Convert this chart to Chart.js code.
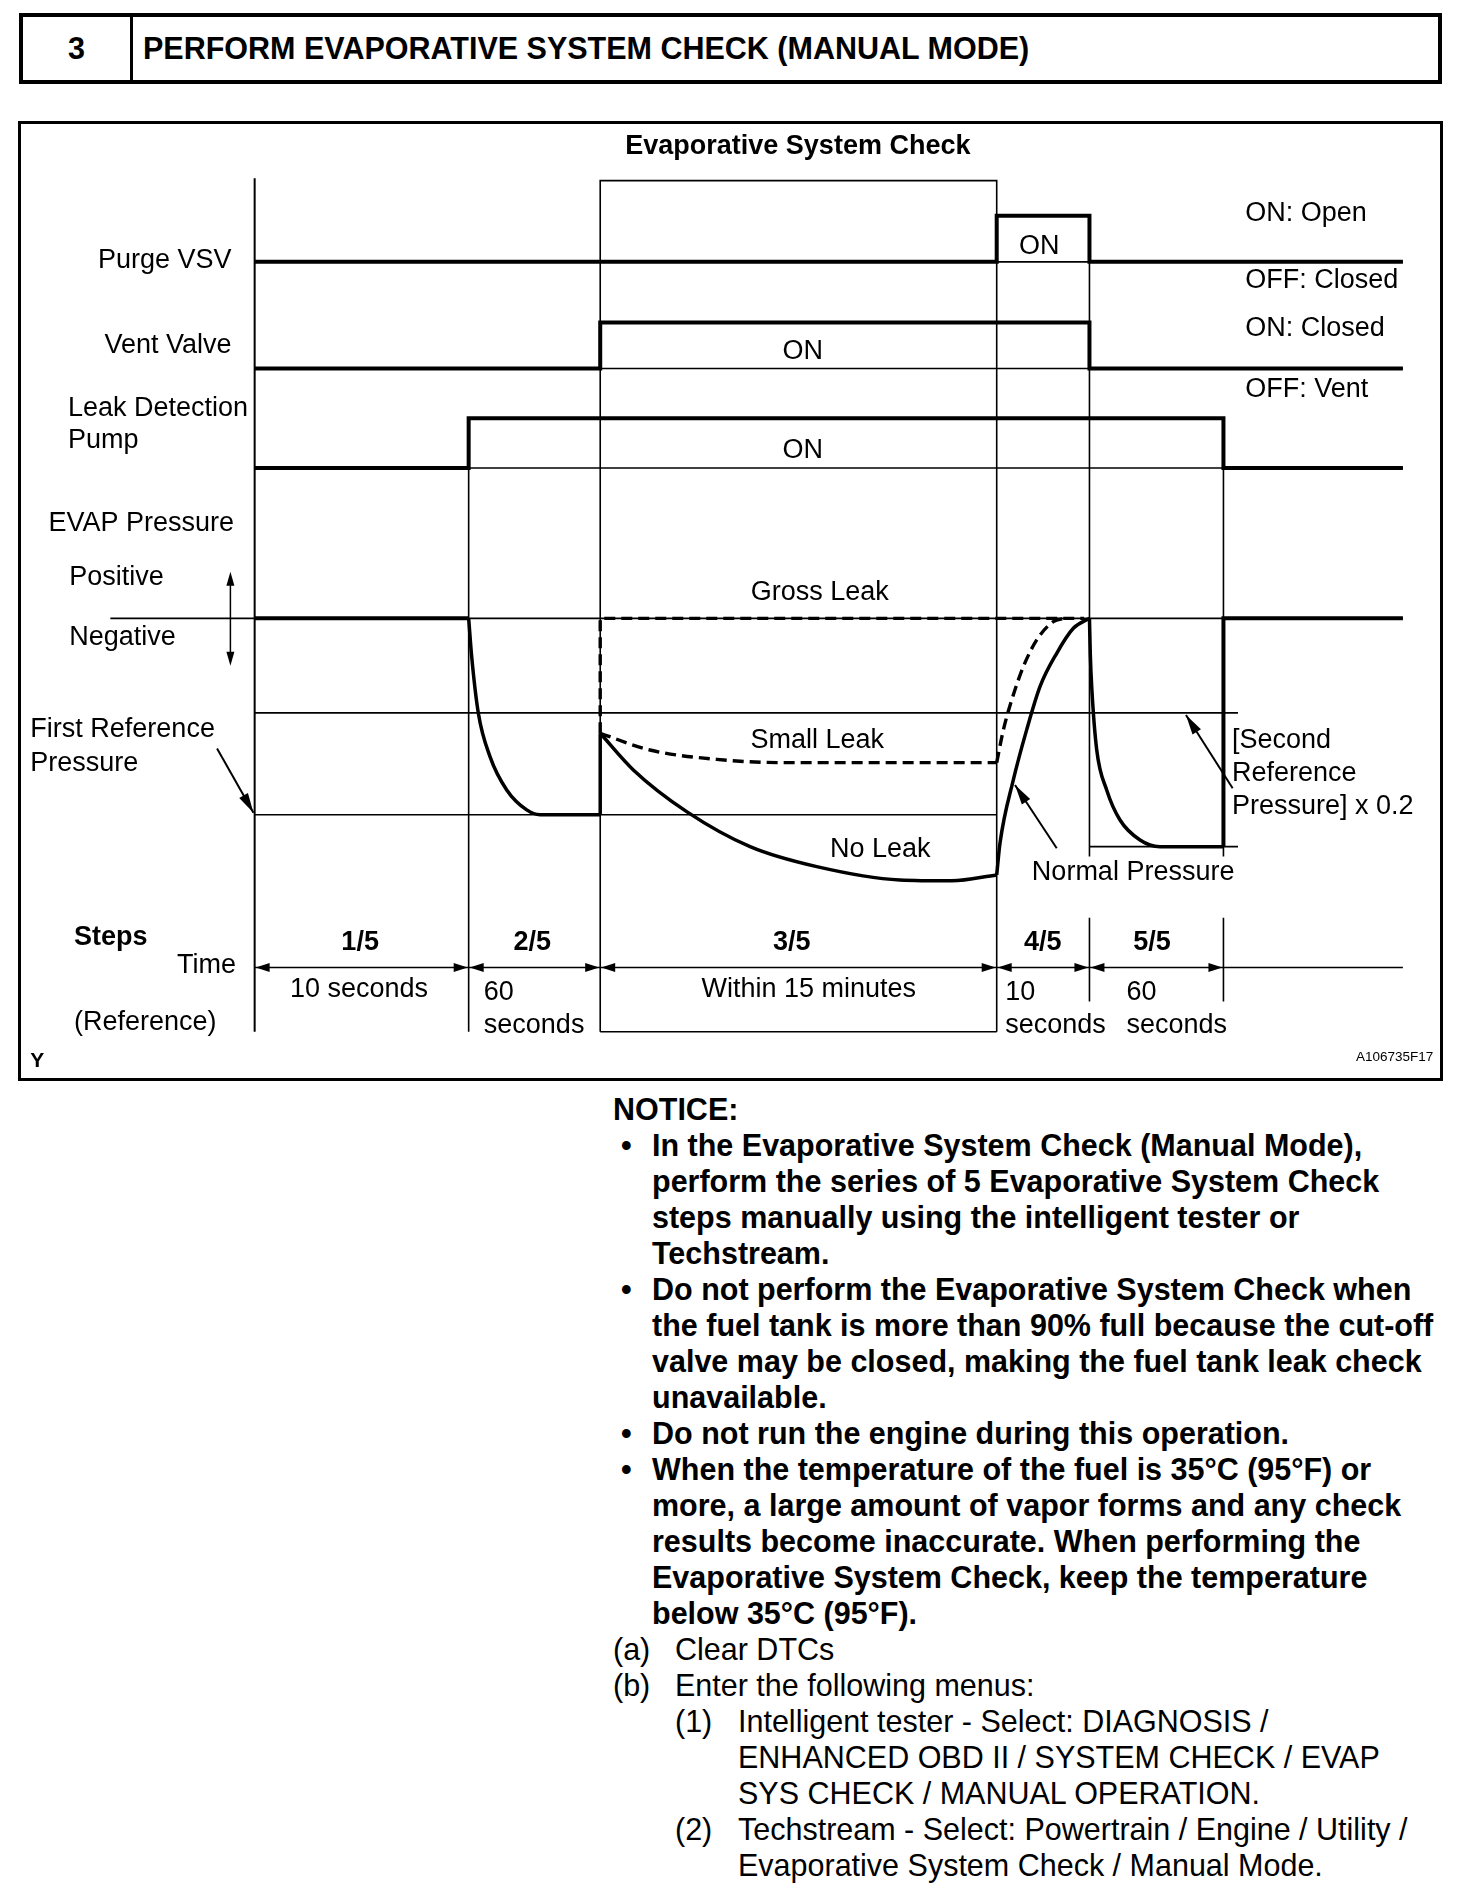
<!DOCTYPE html>
<html>
<head>
<meta charset="utf-8">
<script src="https://cdn.jsdelivr.net/npm/chart.js@4.4.0/dist/chart.umd.min.js"></script>
<style>
  body { margin: 0; background: #fff; color: #000; font-family: "Liberation Sans", Arial, sans-serif; }
  #page { position: relative; width: 1472px; height: 1902px; overflow: hidden; }
  .hdr { position: absolute; left: 19px; top: 13px; width: 1423px; height: 71px; border: 4px solid #000; box-sizing: border-box; }
  .hdr .num { position: absolute; left: 0; top: 0; width: 107px; height: 100%; border-right: 3px solid #000;
    font: bold 30.5px "Liberation Sans", Arial, sans-serif; display: flex; align-items: center; justify-content: center; }
  .hdr .title { position: absolute; left: 120px; top: 0; height: 100%; display: flex; align-items: center;
    font: bold 30.5px "Liberation Sans", Arial, sans-serif; white-space: nowrap; }
  .frame { position: absolute; left: 18px; top: 121px; width: 1425px; height: 960px; border: 3px solid #000; box-sizing: border-box; }
  #wrap { position: absolute; left: 21px; top: 124px; width: 1419px; height: 954px; }
  .notice { position: absolute; left: 613px; top: 1091px; font-size: 30.5px; line-height: 36px; white-space: nowrap; }
  .notice div { position: relative; height: 36px; }
  .b { font-weight: bold; }
  .mk { position: absolute; }
</style>
</head>
<body>
<div id="page">
  <div class="hdr"><div class="num">3</div><div class="title">PERFORM EVAPORATIVE SYSTEM CHECK (MANUAL MODE)</div></div>
  <div class="frame"></div>
  <div id="wrap"><canvas id="chart" width="1419" height="954"></canvas></div>

  <div class="notice">
    <div class="b">NOTICE:</div>
    <div class="b"><span class="mk" style="left:8px">•</span><span class="mk" style="left:39px">In the Evaporative System Check (Manual Mode),</span></div>
    <div class="b"><span class="mk" style="left:39px">perform the series of 5 Evaporative System Check</span></div>
    <div class="b"><span class="mk" style="left:39px">steps manually using the intelligent tester or</span></div>
    <div class="b"><span class="mk" style="left:39px">Techstream.</span></div>
    <div class="b"><span class="mk" style="left:8px">•</span><span class="mk" style="left:39px">Do not perform the Evaporative System Check when</span></div>
    <div class="b"><span class="mk" style="left:39px">the fuel tank is more than 90% full because the cut-off</span></div>
    <div class="b"><span class="mk" style="left:39px">valve may be closed, making the fuel tank leak check</span></div>
    <div class="b"><span class="mk" style="left:39px">unavailable.</span></div>
    <div class="b"><span class="mk" style="left:8px">•</span><span class="mk" style="left:39px">Do not run the engine during this operation.</span></div>
    <div class="b"><span class="mk" style="left:8px">•</span><span class="mk" style="left:39px">When the temperature of the fuel is 35°C (95°F) or</span></div>
    <div class="b"><span class="mk" style="left:39px">more, a large amount of vapor forms and any check</span></div>
    <div class="b"><span class="mk" style="left:39px">results become inaccurate. When performing the</span></div>
    <div class="b"><span class="mk" style="left:39px">Evaporative System Check, keep the temperature</span></div>
    <div class="b"><span class="mk" style="left:39px">below 35°C (95°F).</span></div>
    <div><span class="mk" style="left:0">(a)</span><span class="mk" style="left:62px">Clear DTCs</span></div>
    <div><span class="mk" style="left:0">(b)</span><span class="mk" style="left:62px">Enter the following menus:</span></div>
    <div><span class="mk" style="left:62px">(1)</span><span class="mk" style="left:125px">Intelligent tester - Select: DIAGNOSIS /</span></div>
    <div><span class="mk" style="left:125px">ENHANCED OBD II / SYSTEM CHECK / EVAP</span></div>
    <div><span class="mk" style="left:125px">SYS CHECK / MANUAL OPERATION.</span></div>
    <div><span class="mk" style="left:62px">(2)</span><span class="mk" style="left:125px">Techstream - Select: Powertrain / Engine / Utility /</span></div>
    <div><span class="mk" style="left:125px">Evaporative System Check / Manual Mode.</span></div>
  </div>
</div>

<script>
// Steps and their time marks (x = diagram time units, axis at 0)
const steps = ['1/5', '2/5', '3/5', '4/5', '5/5'];
const stepTimes = ['10 seconds', '60|seconds', 'Within 15 minutes', '10|seconds', '60|seconds'];
const stepEdges = [0, 17.65, 28.5, 61.2, 68.85, 79.9];
const timeEnd = 94.7;

// Signal rows: state for each step (plus the part after step 5)
const signals = ['Purge VSV', 'Vent Valve', 'Leak Detection Pump'];
const purgeVSV = [0, 0, 0, 1, 0, 0];
const ventValve = [0, 0, 1, 1, 0, 0];
const leakPump = [0, 1, 1, 1, 1, 0];
const signalOff = [67.4, 58.6, 50.4];
const signalOn = [71.2, 62.4, 54.5];

// EVAP pressure levels
const atmLevel = 38.0;
const secondRefLevel = 30.2;
const firstRefLevel = 21.8;
const normalLevel = 19.17;

// EVAP pressure curves (time, pressure)
const step2T = [17.65, 17.9, 18.45, 19.41, 20.79, 22.44, 23.54, 28.5];
const step2P = [38.0, 34.84, 30.17, 26.6, 23.85, 22.2, 21.8, 21.8];
const noLeakT = [28.5, 31.23, 35.63, 40.86, 46.36, 53.2, 57.5, 61.2];
const noLeakP = [28.52, 25.5, 22.06, 19.17, 17.52, 16.42, 16.35, 16.84];
const noLeakRiseT = [61.2, 61.47, 62.57, 63.67, 64.77, 66.15, 67.52, 68.85];
const noLeakRiseP = [16.84, 19.45, 24.67, 28.8, 32.37, 35.12, 37.18, 38.0];
const smallLeakT = [28.5, 32.6, 38.1, 43.6, 49, 55, 61.2];
const smallLeakP = [28.52, 27.14, 26.37, 26.1, 26.1, 26.1, 26.1];
const smallLeakRiseT = [61.2, 61.75, 62.44, 63.4, 64.5, 65.87, 66.8];
const smallLeakRiseP = [26.1, 28.8, 31.27, 34.02, 36.22, 37.73, 38.0];
const step5T = [68.85, 68.92, 69.05, 69.45, 70.27, 71.37, 73.02, 74.67, 79.9];
const step5P = [38.0, 35.0, 32.1, 27.14, 23.85, 21.37, 19.72, 19.17, 19.17];

const FONT = '"Liberation Sans", Arial, sans-serif';

function pts(xs, ys) {
    return xs.map((v, i) => ({ x: v, y: ys[i] }));
}

function stepPoints(states, off, on) {
    const edges = stepEdges.concat([timeEnd]);
    const out = [];
    states.forEach((s, i) => {
        const v = s ? on : off;
        out.push({ x: edges[i], y: v }, { x: edges[i + 1], y: v });
    });
    return out;
}

function line(data, width, opts) {
    return Object.assign({ data: data, borderColor: '#000', borderWidth: width, pointRadius: 0, tension: 0, fill: false }, opts || {});
}

const thick = 4, thin = 1.6, curveW = 3.5;
const smooth = { cubicInterpolationMode: 'monotone' };
const dashed = { borderDash: [11, 6] };

const datasets = [
    // signal rows
    line(stepPoints(purgeVSV, signalOff[0], signalOn[0]), thick),
    line(stepPoints(ventValve, signalOff[1], signalOn[1]), thick),
    line(stepPoints(leakPump, signalOff[2], signalOn[2]), thick),
    // pressure traces
    line(pts([stepEdges[0], stepEdges[1]], [atmLevel, atmLevel]), thick),
    line(pts(step2T, step2P), curveW, smooth),
    line(pts([stepEdges[2], stepEdges[2]], [firstRefLevel, noLeakP[0]]), curveW),
    line(pts([stepEdges[2], stepEdges[2], 68.4], [noLeakP[0], atmLevel, atmLevel]), 3.4, dashed),
    line(pts(noLeakT, noLeakP), curveW, smooth),
    line(pts(noLeakRiseT, noLeakRiseP), curveW, smooth),
    line(pts(smallLeakT, smallLeakP), 3.4, Object.assign({}, smooth, dashed)),
    line(pts(smallLeakRiseT, smallLeakRiseP), 3.4, Object.assign({}, smooth, dashed)),
    line(pts(step5T, step5P), curveW, smooth),
    line(pts([stepEdges[5], stepEdges[5], timeEnd], [normalLevel, atmLevel, atmLevel]), thick),
    // thin frame lines
    line(pts([0, 0], [74.3, 3.9]), 2),
    line(pts([stepEdges[2], stepEdges[2], stepEdges[3], stepEdges[3]], [3.9, 74.1, 74.1, 3.9]), thin),
    line(pts([stepEdges[2], stepEdges[3]], [3.9, 3.9]), thin),
    line(pts([stepEdges[1], stepEdges[1]], [signalOn[2], 3.9]), thin),
    line(pts([stepEdges[4], stepEdges[4]], [signalOn[0], 18.35]), thin),
    line(pts([stepEdges[4], stepEdges[4]], [13.3, 6.4]), thin),
    line(pts([stepEdges[5], stepEdges[5]], [signalOn[2], 18.35]), thin),
    line(pts([stepEdges[5], stepEdges[5]], [13.3, 6.4]), thin),
    line(pts([0, timeEnd], [signalOff[0], signalOff[0]]), thin),
    line(pts([0, timeEnd], [signalOff[1], signalOff[1]]), thin),
    line(pts([0, timeEnd], [signalOff[2], signalOff[2]]), thin),
    line(pts([-11.9, timeEnd], [atmLevel, atmLevel]), thin),
    line(pts([0, 81.1], [secondRefLevel, secondRefLevel]), thin),
    line(pts([0, stepEdges[3]], [firstRefLevel, firstRefLevel]), thin),
    line(pts([stepEdges[4], 81.1], [normalLevel, normalLevel]), thin),
    line(pts([0, timeEnd], [9.2, 9.2]), thin)
];

// text placed on the diagram
const labels = [
    { text: 'Evaporative System Check', t: 44.8, p: 76.9, align: 'center', bold: true },
    { text: signals[0], t: -1.9, p: 67.5, align: 'right' },
    { text: signals[1], t: -1.9, p: 60.5, align: 'right' },
    { text: 'Leak Detection', t: -15.4, p: 55.3 },
    { text: 'Pump', t: -15.4, p: 52.7 },
    { text: 'EVAP Pressure', t: -17.0, p: 45.8 },
    { text: 'Positive', t: -15.3, p: 41.4 },
    { text: 'Negative', t: -15.3, p: 36.4 },
    { text: 'First Reference', t: -18.5, p: 28.8 },
    { text: 'Pressure', t: -18.5, p: 26.0 },
    { text: 'Steps', t: -14.9, p: 11.7, bold: true },
    { text: 'Time', t: -6.4, p: 9.4 },
    { text: '(Reference)', t: -14.9, p: 4.7 },
    { text: 'Y', t: -18.5, p: 1.5, bold: true, size: 21 },
    { text: 'A106735F17', t: 97.2, p: 1.8, align: 'right', size: 13.5 },
    { text: 'ON: Open', t: 81.7, p: 71.4 },
    { text: 'OFF: Closed', t: 81.7, p: 65.9 },
    { text: 'ON: Closed', t: 81.7, p: 61.9 },
    { text: 'OFF: Vent', t: 81.7, p: 56.9 },
    { text: 'ON', t: 64.7, p: 68.7, align: 'center' },
    { text: 'ON', t: 45.2, p: 60.0, align: 'center' },
    { text: 'ON', t: 45.2, p: 51.8, align: 'center' },
    { text: 'Gross Leak', t: 46.6, p: 40.1, align: 'center' },
    { text: 'Small Leak', t: 46.4, p: 27.9, align: 'center' },
    { text: 'No Leak', t: 51.6, p: 18.9, align: 'center' },
    { text: 'Normal Pressure', t: 64.1, p: 17.0 },
    { text: '[Second', t: 80.6, p: 27.9 },
    { text: 'Reference', t: 80.6, p: 25.2 },
    { text: 'Pressure] x 0.2', t: 80.6, p: 22.5 }
];
const stepLabelT = [8.7, 22.9, 44.3, 65.0, 74.0];
const timeLabelT = [8.6, 18.9, 45.7, 61.9, 71.9];

// pointer arrows [fromT, fromP, toT, toP]
const pointers = [
    [-3.1, 27.26, -0.1, 21.96],
    [66.15, 19.04, 62.71, 24.26],
    [80.66, 23.98, 76.81, 30.03]
];

function head(ctx, x1, y1, x2, y2, len, half) {
    const a = Math.atan2(y2 - y1, x2 - x1);
    ctx.beginPath();
    ctx.moveTo(x2, y2);
    ctx.lineTo(x2 - len * Math.cos(a) + half * Math.sin(a), y2 - len * Math.sin(a) - half * Math.cos(a));
    ctx.lineTo(x2 - len * Math.cos(a) - half * Math.sin(a), y2 - len * Math.sin(a) + half * Math.cos(a));
    ctx.closePath();
    ctx.fill();
}

const diagramPlugin = {
    id: 'diagram',
    afterDatasetsDraw(chart) {
        const ctx = chart.ctx;
        const X = v => chart.scales.x.getPixelForValue(v);
        const Y = v => chart.scales.y.getPixelForValue(v);
        ctx.save();
        ctx.fillStyle = '#000';
        ctx.strokeStyle = '#000';
        ctx.textBaseline = 'middle';

        labels.forEach(l => {
            ctx.font = (l.bold ? 'bold ' : '') + (l.size || 27) + 'px ' + FONT;
            ctx.textAlign = l.align || 'left';
            ctx.fillText(l.text, X(l.t), Y(l.p));
        });

        // step numbers and times
        steps.forEach((s, i) => {
            ctx.font = 'bold 27px ' + FONT;
            ctx.textAlign = 'center';
            ctx.fillText(s, X(stepLabelT[i]), Y(11.3));
            ctx.font = '27px ' + FONT;
            const parts = stepTimes[i].split('|');
            if (parts.length === 1) {
                ctx.fillText(parts[0], X(timeLabelT[i]), Y(7.4));
            } else {
                ctx.textAlign = 'left';
                ctx.fillText(parts[0], X(timeLabelT[i]), Y(7.1));
                ctx.fillText(parts[1], X(timeLabelT[i]), Y(4.4));
            }
        });

        // time arrows for each step
        for (let i = 0; i < steps.length; i++) {
            const xa = X(stepEdges[i]), xb = X(stepEdges[i + 1]), yy = Y(9.2);
            head(ctx, xb, yy, xa + 1, yy, 14, 4.5);
            head(ctx, xa, yy, xb - 1, yy, 14, 4.5);
        }

        // pointer arrows
        ctx.lineWidth = 2;
        pointers.forEach(a => {
            const x1 = X(a[0]), y1 = Y(a[1]), x2 = X(a[2]), y2 = Y(a[3]);
            ctx.beginPath();
            ctx.moveTo(x1, y1);
            ctx.lineTo(x2, y2);
            ctx.stroke();
            head(ctx, x1, y1, x2, y2, 20, 5);
        });

        // positive / negative arrow
        const xp = X(-2.0), yTop = Y(41.84), yBot = Y(34.1);
        ctx.lineWidth = 1.5;
        ctx.beginPath();
        ctx.moveTo(xp, yTop + 6);
        ctx.lineTo(xp, yBot - 6);
        ctx.stroke();
        head(ctx, xp, yBot, xp, yTop, 14, 4);
        head(ctx, xp, yTop, xp, yBot, 14, 4);
        ctx.restore();
    }
};

new Chart(document.getElementById('chart'), {
    type: 'line',
    data: { datasets: datasets },
    options: {
        responsive: false,
        animation: false,
        devicePixelRatio: 1,
        layout: { padding: 0 },
        plugins: { legend: { display: false }, tooltip: { enabled: false } },
        scales: {
            x: { type: 'linear', min: -19.27, max: 97.76, display: false },
            y: { type: 'linear', min: 0.09, max: 78.77, display: false }
        }
    },
    plugins: [diagramPlugin]
});
</script>
</body>
</html>
